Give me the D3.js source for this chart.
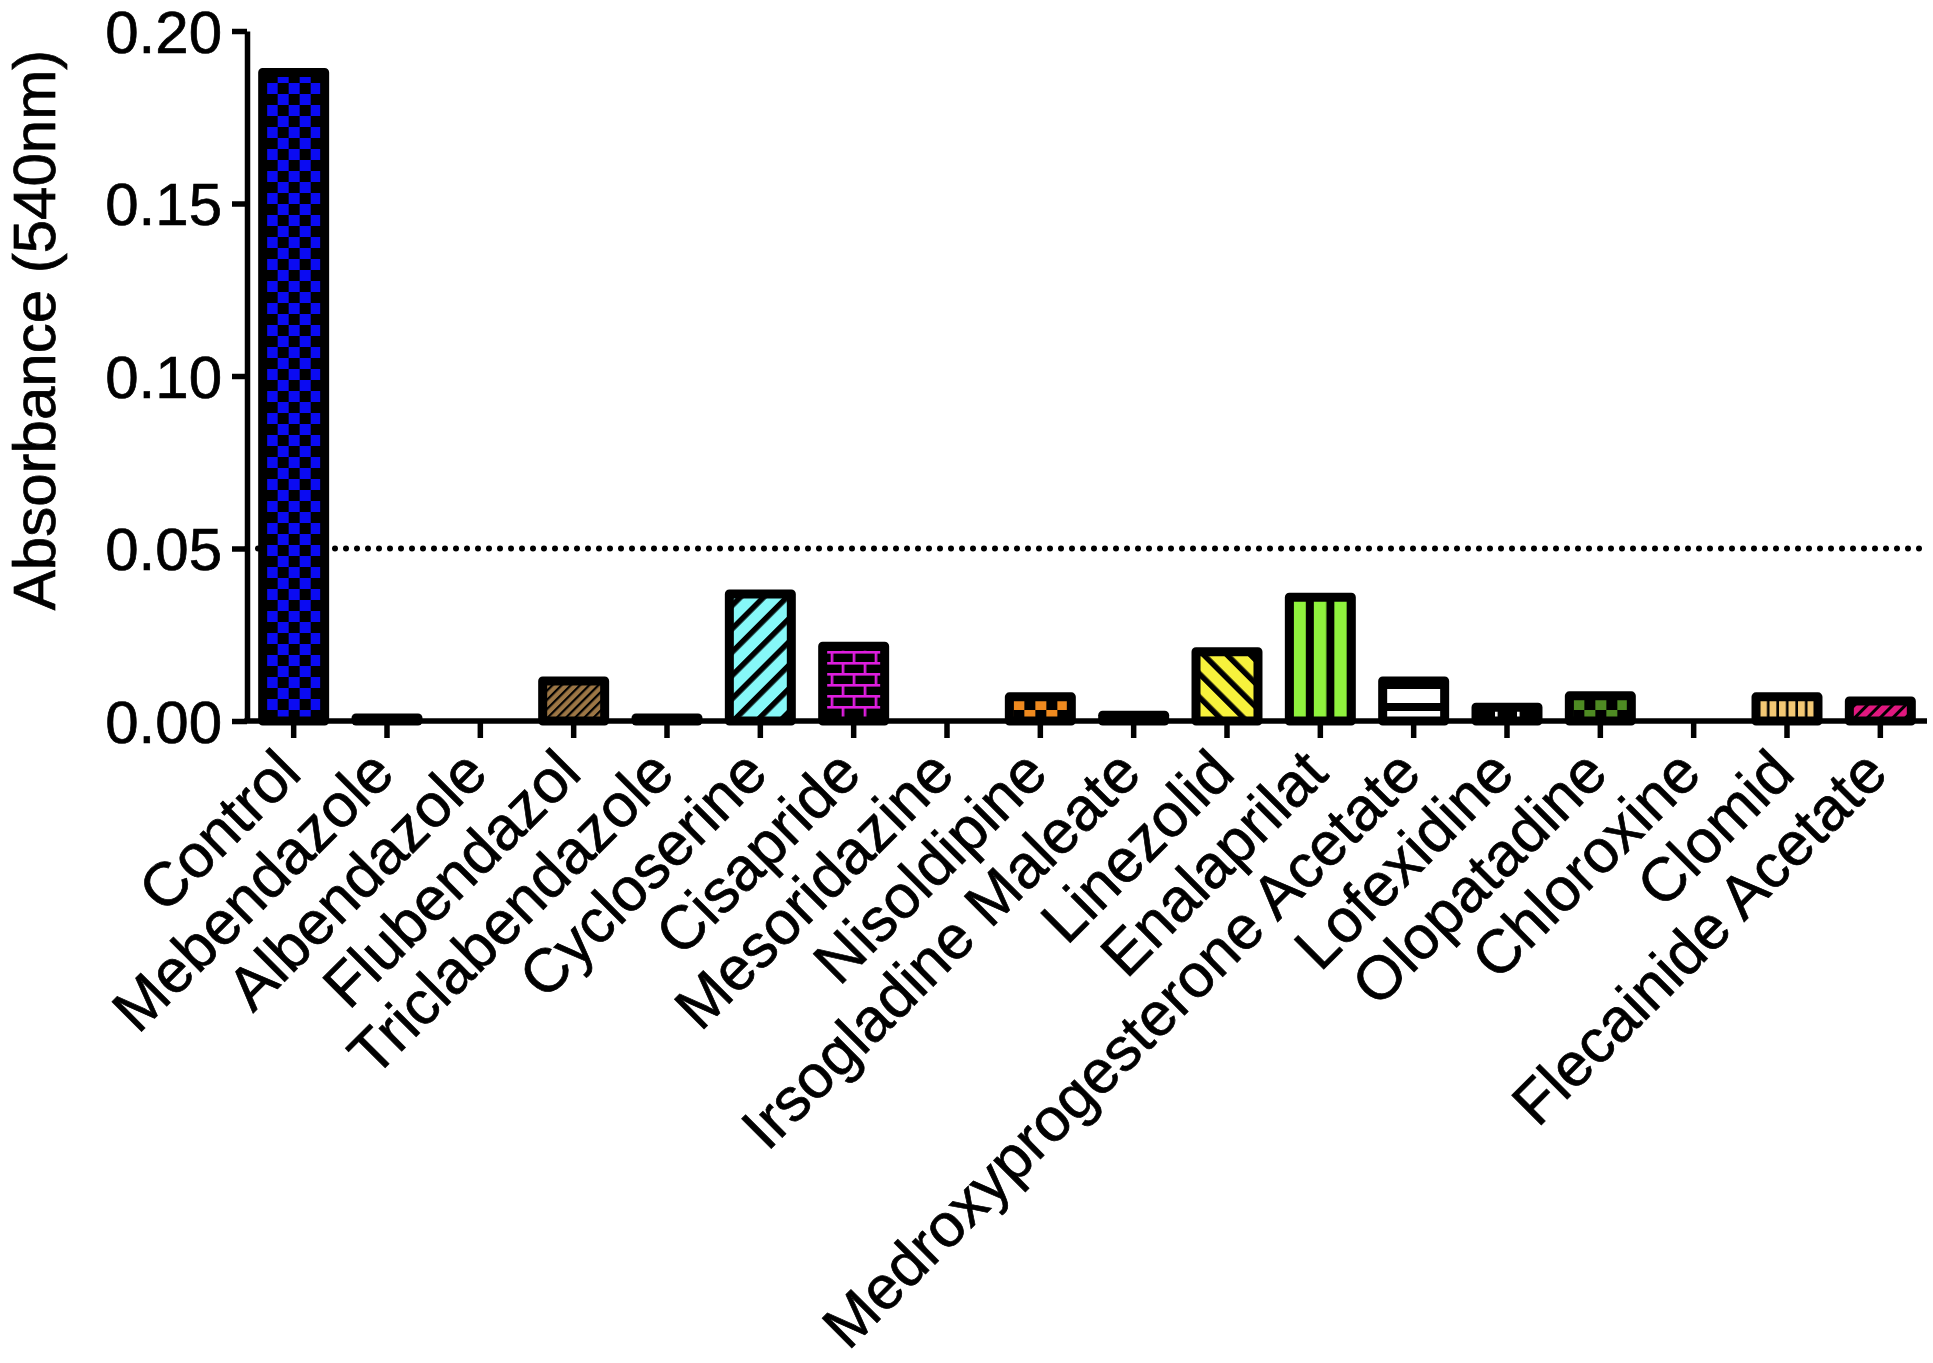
<!DOCTYPE html>
<html>
<head>
<meta charset="utf-8">
<script src="https://cdn.jsdelivr.net/npm/d3@7"></script>
<style>
  html, body { margin: 0; padding: 0; background: #fff; }
  svg { display: block; }
  text { font-family: "Liberation Sans", Arial, Helvetica, sans-serif; fill: #000; stroke: #000; stroke-width: 0.7px; }
</style>
</head>
<body>
<svg id="chart" width="1933" height="1363"></svg>
<script>
// ---- data ----
const categories = ["Control", "Mebendazole", "Albendazole", "Flubendazol", "Triclabendazole",
  "Cycloserine", "Cisapride", "Mesoridazine", "Nisoldipine", "Irsogladine Maleate", "Linezolid",
  "Enalaprilat", "Medroxyprogesterone Acetate", "Lofexidine", "Olopatadine", "Chloroxine",
  "Clomid", "Flecainide Acetate"];
const absorbance = [0.188, 0.0009, 0, 0.0116, 0.0009, 0.0368, 0.0217, 0, 0.0070, 0.0017,
  0.0201, 0.0359, 0.0116, 0.0040, 0.0073, 0, 0.0070, 0.0058];
const yTicks = [0, 0.05, 0.10, 0.15, 0.20];
const thresholdValue = 0.05;
const yTitle = "Absorbance (540nm)";

// ---- styles (per bar) ----
const patternKinds = ["checker", "solid", "solid", "diagFine", "solid", "diag", "brick", "solid",
  "checker", "solid", "diagBack", "vstripe", "hstripe", "brick", "checker", "solid", "vstripeThin", "diagMid"];
const patternColors = ["#0b0bf2", "#000", "#000", "#9c7645", "#000", "#86f8f8", "#e01ee0", "#000",
  "#ef8a1f", "#000", "#f7f23c", "#8ff23d", "#ffffff", "#ffffff", "#4e8b23", "#000", "#f3c874", "#e0187f"];

const svg = d3.select("#chart");
const plotLeft = 247, plotRight = 1927, plotTop = 31, plotBottom = 721;

const x = d3.scaleBand().domain(categories).range([plotLeft, plotRight]).paddingInner(0.336).paddingOuter(0.168);
const y = d3.scaleLinear().domain([0, 0.2]).range([plotBottom, plotTop]);

const defs = svg.append("defs");

categories.forEach((c, i) => {
  const kind = patternKinds[i];
  const col = patternColors[i];
  const bx = x(c), by0 = y(0);
  const id = "pat" + i;
  let p;
  if (kind === "solid") {
    return;
  } else if (kind === "checker") {
    const s = 11;
    p = defs.append("pattern").attr("id", id).attr("patternUnits", "userSpaceOnUse")
      .attr("width", 2 * s).attr("height", 2 * s)
      .attr("patternTransform", `translate(${bx + 4},${by0})`);
    p.append("rect").attr("width", 2 * s).attr("height", 2 * s).attr("fill", "#000");
    p.append("rect").attr("x", 0).attr("y", 0).attr("width", s).attr("height", s).attr("fill", col);
    p.append("rect").attr("x", s).attr("y", s).attr("width", s).attr("height", s).attr("fill", col);
  } else if (kind === "diag" || kind === "diagBack" || kind === "diagFine" || kind === "diagMid") {
    const period = kind === "diagFine" ? 6.5 : (kind === "diagMid" ? 9 : 16.5);
    const lw = kind === "diagFine" ? 2.2 : (kind === "diagMid" ? 3 : 5.5);
    const ang = kind === "diagBack" ? -45 : 45;
    p = defs.append("pattern").attr("id", id).attr("patternUnits", "userSpaceOnUse")
      .attr("width", period).attr("height", period)
      .attr("patternTransform", `translate(${bx},${by0}) rotate(${ang})`);
    p.append("rect").attr("width", period).attr("height", period).attr("fill", col);
    p.append("rect").attr("x", 0).attr("y", 0).attr("width", lw).attr("height", period).attr("fill", "#000");
  } else if (kind === "vstripe" || kind === "vstripeThin") {
    const period = kind === "vstripe" ? 20.5 : 9.5;
    const lw = kind === "vstripe" ? 8 : 2.6;
    p = defs.append("pattern").attr("id", id).attr("patternUnits", "userSpaceOnUse")
      .attr("width", period).attr("height", 10)
      .attr("patternTransform", `translate(${bx + 4},0)`);
    p.append("rect").attr("width", period).attr("height", 10).attr("fill", col);
    p.append("rect").attr("x", period - lw).attr("y", 0).attr("width", lw).attr("height", 10).attr("fill", "#000");
  } else if (kind === "hstripe") {
    const period = 22, lw = 8;
    p = defs.append("pattern").attr("id", id).attr("patternUnits", "userSpaceOnUse")
      .attr("width", 10).attr("height", period)
      .attr("patternTransform", `translate(0,${by0 - 18})`);
    p.append("rect").attr("width", 10).attr("height", period).attr("fill", col);
    p.append("rect").attr("x", 0).attr("y", 0).attr("width", 10).attr("height", lw).attr("fill", "#000");
  } else if (kind === "brick") {
    const bw = 22, bh = 11, lw = 2.6;
    p = defs.append("pattern").attr("id", id).attr("patternUnits", "userSpaceOnUse")
      .attr("width", bw).attr("height", 2 * bh)
      .attr("patternTransform", `translate(${bx + 8},${by0 - 4})`);
    p.append("rect").attr("width", bw).attr("height", 2 * bh).attr("fill", "#000");
    p.append("rect").attr("x", 0).attr("y", 0).attr("width", bw).attr("height", lw).attr("fill", col);
    p.append("rect").attr("x", 0).attr("y", bh).attr("width", bw).attr("height", lw).attr("fill", col);
    p.append("rect").attr("x", 0).attr("y", 0).attr("width", lw).attr("height", bh).attr("fill", col);
    p.append("rect").attr("x", bw / 2).attr("y", bh).attr("width", lw).attr("height", bh).attr("fill", col);
  }
});

// threshold dotted line
svg.append("line")
  .attr("x1", plotLeft).attr("x2", plotRight)
  .attr("y1", y(thresholdValue)).attr("y2", y(thresholdValue))
  .attr("stroke", "#000").attr("stroke-width", 6)
  .attr("stroke-linecap", "round").attr("stroke-dasharray", "0 11");

// bars
const data = categories.map((c, i) => ({ c, v: absorbance[i], i }));
svg.append("g").selectAll("rect").data(data).join("rect")
  .attr("x", d => x(d.c))
  .attr("width", x.bandwidth())
  .attr("y", d => y(d.v))
  .attr("height", d => y(0) - y(d.v))
  .attr("fill", d => patternKinds[d.i] === "solid" ? "#000" : `url(#pat${d.i})`)
  .attr("stroke", "#000")
  .attr("stroke-width", 9)
  .attr("stroke-linejoin", "round");

// y axis
const yAxis = svg.append("g").attr("transform", `translate(${plotLeft},0)`)
  .call(d3.axisLeft(y).tickValues(yTicks).tickFormat(d3.format(".2f"))
    .tickSize(15).tickSizeOuter(0).tickPadding(10));
yAxis.selectAll("path, line").attr("stroke", "#000").attr("stroke-width", 5.5);
yAxis.selectAll("text").attr("font-size", 60).attr("dy", "0.35em")
  .style("font-family", '"Liberation Sans", Arial, sans-serif');

// x axis
const xAxis = svg.append("g").attr("transform", `translate(0,${plotBottom})`)
  .call(d3.axisBottom(x).tickSize(17).tickSizeOuter(0));
xAxis.selectAll("path, line").attr("stroke", "#000").attr("stroke-width", 5.5);
xAxis.select("path.domain").attr("d", `M${plotLeft - 2.75},0H${plotRight}`);
xAxis.selectAll("text")
  .attr("font-size", 61)
  .attr("x", 0).attr("y", 0).attr("dy", 0)
  .attr("text-anchor", "end")
  .attr("transform", "translate(10,55) rotate(-45)")
  .style("font-family", '"Liberation Sans", Arial, sans-serif');

// y title
svg.append("text")
  .attr("transform", "translate(55,330) rotate(-90)")
  .attr("text-anchor", "middle")
  .attr("font-size", 60)
  .text(yTitle);
</script>
</body>
</html>
